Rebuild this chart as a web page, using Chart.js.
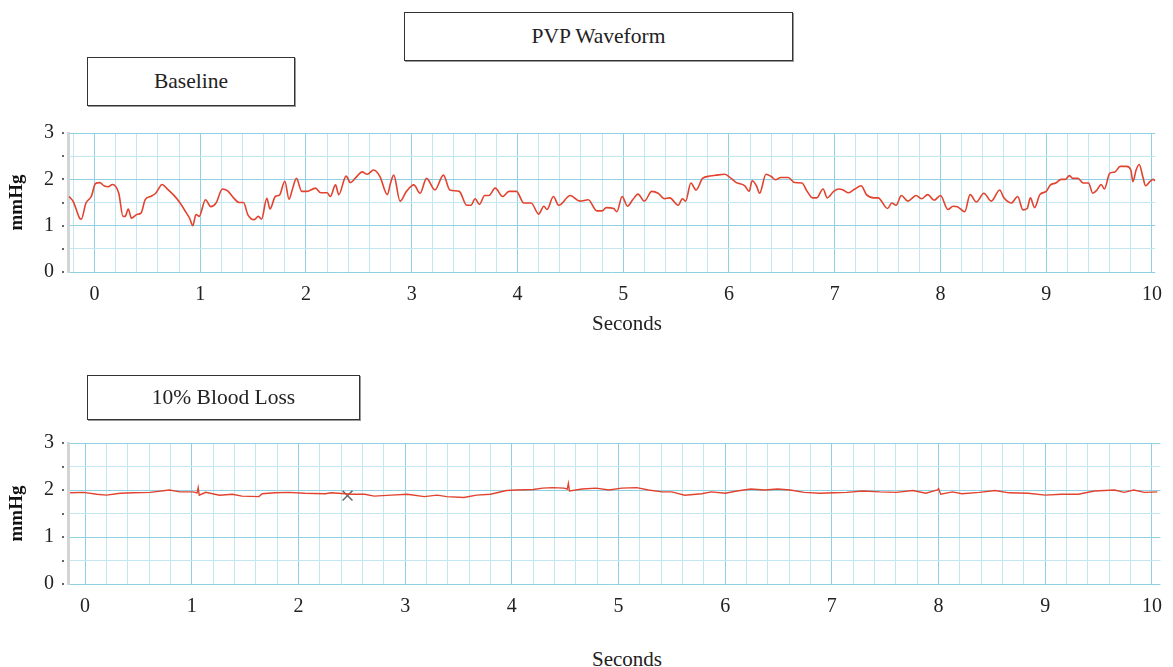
<!DOCTYPE html>
<html>
<head>
<meta charset="utf-8">
<title>PVP Waveform</title>
<script src="https://cdn.jsdelivr.net/npm/chart.js@4.4.1/dist/chart.umd.min.js"></script>
<style>
  html, body { margin: 0; padding: 0; background: #fff; overflow: hidden; }
  body { width: 1173px; height: 667px; position: relative; font-family: "Liberation Serif", "Times New Roman", serif; color: #222; }
  .box { position: absolute; box-sizing: border-box; border: 1px solid #333; box-shadow: 1px 1px 0 #999;
         display: flex; align-items: center; justify-content: center; font-size: 21.5px; background: #fff; }
  .axis-title { position: absolute; font-size: 21px; transform: translate(-50%, -50%); white-space: nowrap; }
  .chart-wrap { position: absolute; left: 0; width: 1173px; }
</style>
</head>
<body>

<!-- the y tick padding also pads the top of the plot by ~26px, so the canvases start that much above the grid -->
<div class="chart-wrap" style="top:107px; height:205px;"><canvas id="baselineChart"></canvas></div>
<div class="axis-title" style="left:627px; top:323px;">Seconds</div>

<div class="chart-wrap" style="top:417px; height:207px;"><canvas id="lossChart"></canvas></div>
<div class="axis-title" style="left:627px; top:659px;">Seconds</div>

<div class="box" style="left:404px; top:12px; width:389px; height:49px;">PVP Waveform</div>
<div class="box" style="left:87px; top:57px; width:208px; height:49px;">Baseline</div>
<div class="box" style="left:87px; top:375px; width:273px; height:45px;">10% Blood Loss</div>

<script>
// baseline recording (seconds, mmHg)
const baseTimes = [
  -0.24, -0.20, -0.14, -0.125, -0.08, -0.03, 0.01, 0.05, 0.09, 0.13, 0.17, 0.23, 0.27, 0.29, 0.32, 0.35, 0.40, 0.44, 0.48, 0.53, 0.58, 0.64, 0.69, 0.75, 0.80, 0.86, 0.90, 0.93, 0.96, 0.99,
  1.05, 1.10, 1.15, 1.21, 1.26, 1.32, 1.37, 1.41, 1.45, 1.51, 1.55, 1.58, 1.63, 1.66, 1.71, 1.75, 1.80, 1.84, 1.87, 1.91, 1.96,
  2.01, 2.09, 2.14, 2.20, 2.23, 2.28, 2.31, 2.38, 2.42, 2.48, 2.53, 2.58, 2.64, 2.70, 2.77, 2.80, 2.83, 2.89, 2.95,
  3.02, 3.08, 3.14, 3.22, 3.30, 3.36, 3.45, 3.52, 3.56, 3.60, 3.64, 3.69, 3.73, 3.79, 3.86, 3.92, 3.99,
  4.06, 4.13, 4.20, 4.25, 4.28, 4.34, 4.39, 4.50, 4.59, 4.67, 4.75, 4.80, 4.84, 4.91, 4.94, 4.99,
  5.04, 5.09, 5.14, 5.20, 5.27, 5.33, 5.39, 5.44, 5.52, 5.56, 5.59, 5.64, 5.69, 5.75, 5.82, 5.88, 5.96,
  6.00, 6.07, 6.15, 6.19, 6.22, 6.26, 6.29, 6.35, 6.40, 6.44, 6.49, 6.56, 6.62, 6.69, 6.74, 6.79, 6.83, 6.89, 6.93, 6.99,
  7.04, 7.08, 7.13, 7.19, 7.25, 7.30, 7.37, 7.41, 7.50, 7.54, 7.58, 7.63, 7.69, 7.77, 7.82, 7.88, 7.94,
  8.00, 8.07, 8.12, 8.16, 8.23, 8.28, 8.34, 8.41, 8.48, 8.56, 8.60, 8.67, 8.73, 8.78, 8.82, 8.85, 8.89, 8.94,
  9.00, 9.04, 9.09, 9.14, 9.18, 9.22, 9.25, 9.30, 9.35, 9.40, 9.44, 9.48, 9.52, 9.55, 9.60, 9.65, 9.70, 9.76, 9.80, 9.82, 9.85, 9.88, 9.91, 9.94, 9.98, 10.01, 10.03
];
const baseValues = [
  1.63, 1.52, 1.16, 1.14, 1.49, 1.63, 1.91, 1.93, 1.86, 1.84, 1.89, 1.70, 1.20, 1.20, 1.36, 1.16, 1.24, 1.27, 1.56, 1.63, 1.70, 1.89, 1.79, 1.66, 1.52, 1.31, 1.16, 1.00, 1.24, 1.20,
  1.56, 1.41, 1.49, 1.79, 1.75, 1.59, 1.50, 1.50, 1.24, 1.13, 1.20, 1.14, 1.59, 1.36, 1.63, 1.66, 1.96, 1.57, 1.77, 2.02, 1.74,
  1.74, 1.81, 1.71, 1.71, 1.63, 1.88, 1.67, 2.07, 1.93, 2.06, 2.16, 2.11, 2.20, 2.06, 1.67, 1.92, 2.09, 1.53, 1.74,
  1.88, 1.70, 2.02, 1.77, 2.09, 1.77, 1.74, 1.44, 1.44, 1.58, 1.46, 1.65, 1.65, 1.81, 1.63, 1.74, 1.74,
  1.49, 1.49, 1.25, 1.42, 1.35, 1.63, 1.44, 1.65, 1.53, 1.56, 1.32, 1.32, 1.39, 1.37, 1.30, 1.63,
  1.42, 1.56, 1.68, 1.53, 1.74, 1.70, 1.58, 1.60, 1.44, 1.58, 1.53, 1.92, 1.77, 2.02, 2.07, 2.09, 2.11,
  2.06, 1.93, 1.86, 1.74, 1.97, 1.86, 1.70, 2.11, 2.06, 1.99, 2.04, 2.04, 1.93, 1.92, 1.74, 1.60, 1.60, 1.79, 1.60, 1.74,
  1.79, 1.77, 1.71, 1.79, 1.86, 1.67, 1.60, 1.60, 1.37, 1.49, 1.44, 1.65, 1.53, 1.65, 1.58, 1.67, 1.55,
  1.65, 1.35, 1.42, 1.41, 1.30, 1.67, 1.51, 1.70, 1.53, 1.77, 1.60, 1.49, 1.63, 1.34, 1.37, 1.60, 1.39, 1.67,
  1.74, 1.88, 1.92, 2.00, 2.00, 2.08, 2.02, 2.02, 1.92, 1.92, 1.70, 1.77, 1.89, 1.79, 2.13, 2.16, 2.28, 2.28, 2.20, 1.95, 2.20, 2.32, 2.09, 1.86, 1.95, 2.00, 1.97
];

// after 10% blood loss
const lossTimes = [
  -0.14, -0.01, 0.11, 0.20, 0.33, 0.45, 0.61, 0.79, 0.89, 1.01, 1.05, 1.06, 1.07, 1.13, 1.26, 1.38, 1.47, 1.63, 1.66, 1.78, 1.91,
  2.06, 2.25, 2.31, 2.50, 2.62, 2.71, 2.87, 3.02, 3.18, 3.30, 3.39, 3.55, 3.67, 3.80, 3.95,
  4.04, 4.20, 4.29, 4.38, 4.49, 4.52, 4.53, 4.54, 4.66, 4.79, 4.91, 5.03, 5.17, 5.28, 5.41, 5.50, 5.62, 5.78, 5.87,
  6.00, 6.11, 6.24, 6.37, 6.49, 6.61, 6.74, 6.89, 7.02, 7.14, 7.29, 7.45, 7.60, 7.76, 7.88, 7.99,
  8.00, 8.02, 8.13, 8.22, 8.38, 8.53, 8.66, 8.84, 9.00, 9.15, 9.31, 9.46, 9.65, 9.74, 9.83, 9.93, 10.05
];
const lossValues = [
  1.94, 1.95, 1.91, 1.89, 1.93, 1.94, 1.95, 2.00, 1.96, 1.96, 1.94, 2.05, 1.89, 1.95, 1.89, 1.91, 1.87, 1.86, 1.92, 1.94, 1.95,
  1.93, 1.92, 1.94, 1.91, 1.91, 1.87, 1.89, 1.91, 1.86, 1.89, 1.86, 1.84, 1.89, 1.91, 1.99,
  2.00, 2.01, 2.04, 2.05, 2.04, 2.02, 2.14, 1.98, 2.02, 2.04, 2.00, 2.04, 2.05, 2.00, 1.96, 1.96, 1.89, 1.92, 1.96,
  1.93, 1.98, 2.02, 2.00, 2.02, 2.00, 1.95, 1.93, 1.94, 1.95, 1.98, 1.96, 1.95, 1.99, 1.93, 2.00,
  2.03, 1.91, 1.96, 1.92, 1.95, 1.99, 1.94, 1.93, 1.89, 1.91, 1.91, 1.98, 2.00, 1.95, 2.00, 1.95, 1.96
];

// the marker drawn on the blood loss trace
const markerPoint = [{ x: 2.46, y: 1.88 }];

const MAJOR = '#8fd0e3';
const MINOR = '#c3e7f1';
const TRACE = '#e2432f';
const FONT = 'Liberation Serif';

function isInt(v) {
  return Math.abs(v - Math.round(v)) < 1e-6;
}

function toPoints(times, values) {
  const n = Math.min(times.length, values.length);
  const pts = [];
  for (let i = 0; i < n; i++) pts.push({ x: times[i], y: values[i] });
  return pts;
}

// little dots next to the y axis, one per grid line
const tickDots = {
  id: 'tickDots',
  afterDraw(chart) {
    const ys = chart.scales.y;
    const ctx = chart.ctx;
    ctx.save();
    ctx.fillStyle = '#666';
    ys.ticks.forEach(t => {
      const py = Math.round(ys.getPixelForValue(t.value));
      ctx.fillRect(chart.chartArea.left - 6, py - 1, 2, 2);
    });
    ctx.restore();
  }
};

function makeChart(id, datasets, xMin, xMax, rightPad, labelPad) {
  return new Chart(document.getElementById(id), {
    type: 'line',
    data: { datasets: datasets },
    options: {
      animation: false,
      responsive: true,
      maintainAspectRatio: false,
      layout: { padding: { top: 0, right: rightPad, left: 0, bottom: 0 } },
      plugins: { legend: { display: false }, tooltip: { enabled: false } },
      scales: {
        x: {
          type: 'linear',
          min: xMin,
          max: xMax,
          afterFit(s) { s.height = 40; },
          border: { display: false },
          grid: { drawTicks: false, lineWidth: 1, color: c => isInt(c.tick.value) ? MAJOR : MINOR },
          ticks: {
            stepSize: 0.2,
            autoSkip: false,
            includeBounds: false,
            maxRotation: 0,
            padding: labelPad,
            color: '#222',
            font: { family: FONT, size: 20 },
            callback: v => isInt(v) ? String(Math.round(v)) : ''
          }
        },
        y: {
          min: 0,
          max: 3,
          afterFit(s) { s.width = 68; },
          border: { display: true, color: '#d4d4d4', width: 3 },
          grid: { drawTicks: false, lineWidth: 1, color: c => isInt(c.tick.value) ? MAJOR : MINOR },
          ticks: {
            stepSize: 0.5,
            autoSkip: false,
            padding: 14,
            color: '#222',
            font: { family: FONT, size: 20 },
            callback: v => isInt(v) ? String(Math.round(v)) : ''
          },
          title: {
            display: true,
            text: 'mmHg',
            color: '#111',
            padding: { top: 6, bottom: 0 },
            font: { family: FONT, size: 19, weight: 'bold' }
          }
        }
      }
    },
    plugins: [tickDots]
  });
}

function init() {
  makeChart('baselineChart', [{
    data: toPoints(baseTimes, baseValues),
    borderColor: TRACE,
    borderWidth: 1.6,
    pointRadius: 0,
    cubicInterpolationMode: 'monotone',
    fill: false
  }], -0.25, 10.03, 10, 11);

  makeChart('lossChart', [{
    data: toPoints(lossTimes, lossValues),
    borderColor: TRACE,
    borderWidth: 1.4,
    pointRadius: 0,
    tension: 0,
    fill: false
  }, {
    data: markerPoint,
    showLine: false,
    pointStyle: 'crossRot',
    pointRadius: 7,
    borderColor: '#666',
    borderWidth: 1.5
  }], -0.16, 10.08, 6, 11);
}

window.onload = init;
</script>
</body>
</html>
